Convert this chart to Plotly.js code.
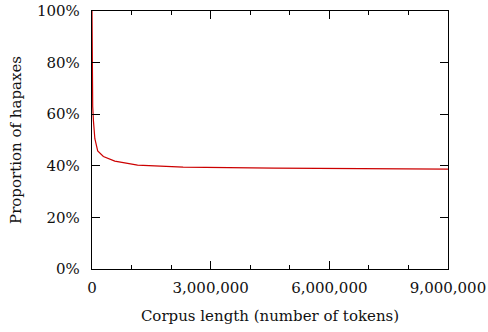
<!DOCTYPE html>
<html><head><meta charset="utf-8">
<script src="https://cdn.plot.ly/plotly-3.0.1.min.js"></script>
<style>body{margin:0;background:#fff}#c{width:488px;height:332px}</style>
</head><body><div id="c"></div>
<script>
const corpusLength = [1, 4500, 9000, 18000, 36000, 72000, 144000, 288000, 576000, 1152000, 2304000, 4608000, 9216000];
const hapaxProportion = [100, 75, 68, 63, 57.5, 50.5, 45.8, 43.6, 41.8, 40.3, 39.5, 39.1, 38.7];
const xTicks = [0, 3000000, 6000000, 9000000];
const xTickLabels = ['0', '3,000,000', '6,000,000', '9,000,000'];
const yTicks = [0, 20, 40, 60, 80, 100];
const yTickLabels = ['0%', '20%', '40%', '60%', '80%', '100%'];

const font = {family: 'DejaVu Serif, serif', size: 15, color: '#111'};
Plotly.newPlot('c', [{
  x: corpusLength, y: hapaxProportion, type: 'scatter', mode: 'lines',
  line: {color: '#cc0000', width: 1.2}, hoverinfo: 'skip', cliponaxis: true
}], {
  width: 488, height: 332,
  margin: {l: 92, r: 40, t: 11, b: 63},
  paper_bgcolor: '#fff', plot_bgcolor: '#fff',
  showlegend: false,
  font: font,
  xaxis: {
    range: [0, 9000000], tickvals: xTicks, ticktext: xTickLabels,
    ticks: 'inside', ticklen: 8, tickwidth: 1, tickcolor: '#000',
    minor: {dtick: 1000000, ticks: 'inside', ticklen: 4, tickcolor: '#000', tickwidth: 1, showgrid: false},
    showline: true, linecolor: '#000', linewidth: 1.2, mirror: 'ticks',
    showgrid: false, zeroline: false, tickfont: font, ticklabelstandoff: 5,
    title: {text: 'Corpus length (number of tokens)', font: font, standoff: 14}
  },
  yaxis: {
    range: [0, 100], tickvals: yTicks, ticktext: yTickLabels,
    ticks: 'inside', ticklen: 8, tickwidth: 1, tickcolor: '#000',
    showline: true, linecolor: '#000', linewidth: 1.2, mirror: 'ticks',
    showgrid: false, zeroline: false, tickfont: font, ticklabelstandoff: 8,
    title: {text: 'Proportion of hapaxes', font: font, standoff: 11}
  }
}, {displayModeBar: false, staticPlot: true});
</script></body></html>
